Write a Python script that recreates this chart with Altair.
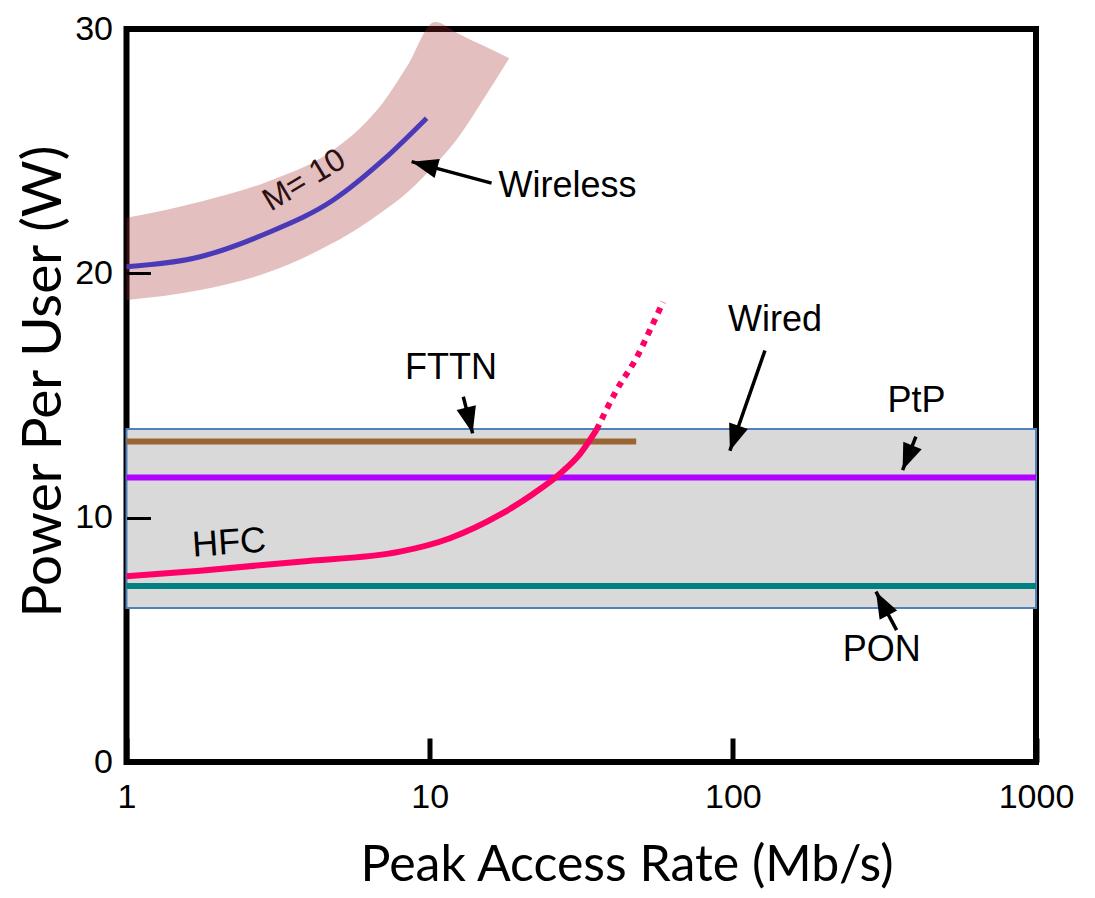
import altair as alt
import pandas as pd

# ---------------- data ----------------
# Wired technologies (horizontal lines), W per user
fttn_x = [1, 48]
fttn_y = [13.12, 13.12]
ptp_x = [1, 1000]
ptp_y = [11.64, 11.64]
pon_x = [1, 1000]
pon_y = [7.2, 7.2]

# Wired envelope band
wired_lo = 6.30
wired_hi = 13.63

# HFC curve (solid part) and its dotted extrapolation
hfc_x = [1, 1.75, 3.73, 7.98, 11.67, 17.06, 21.98, 26.9, 31.3, 35.5]
hfc_y = [7.6, 7.83, 8.2, 8.61, 9.16, 10.12, 10.98, 11.8, 12.6, 13.59]
hfc_ext_x = [35.5, 41.4, 48.3, 53.3, 58.9]
hfc_ext_y = [13.59, 15.23, 16.58, 17.68, 18.83]

# Wireless (M = 10) curve and its uncertainty ribbon
wireless_x = [1, 1.75, 2.9, 4.81, 7.03, 9.77]
wireless_y = [20.27, 20.68, 21.64, 23.0, 24.64, 26.35]
band_x = [1, 1.75, 2.9, 4.81, 5.9, 7.03, 8.4, 10.41, 12.5, 15, 18.3]
band_hi = [22.27, 22.93, 23.74, 25.05, 25.95, 27.0, 28.45, 30.29, 29.8, 29.32, 28.8]
band_lo = [18.91, 19.32, 20.02, 21.25, 21.9, 22.55, 23.29, 24.44, 25.6, 27.1, 28.8]

# Annotation labels
label_text = ["Wireless", "Wired", "FTTN", "PtP", "PON"]
label_x = [28.48, 137.7, 11.76, 403.6, 309.6]
label_y = [23.59, 18.09, 16.13, 14.79, 4.58]

# Arrows (tail -> tip)
arrow_x = [16.0, 12.91, 127.6, 401.6, 346.9]
arrow_y = [23.69, 14.95, 16.84, 13.32, 5.40]
arrow_x2 = [8.72, 13.86, 97.8, 363, 296.6]
arrow_y2 = [24.57, 13.45, 12.74, 11.95, 6.97]
arrow_angle = [285, 166, 199, 202, 332]

# Axis ticks
x_ticks = [1, 10, 100, 1000]
y_ticks = [0, 10, 20, 30]

# ---------------- chart ----------------
LABEL_FONT = "Liberation Sans"
TITLE_FONT = "Lato"

xs = alt.Scale(type="log", domain=[1, 1000])
ys = alt.Scale(domain=[0, 30], nice=False, zero=False)

x_axis = alt.Axis(
    values=x_ticks, format="d", tickSize=24, offset=-24, tickWidth=5,
    tickColor="black", domain=False, grid=False, labelFont=LABEL_FONT,
    labelFontSize=34, labelColor="black", labelPadding=18, labelFlush=False,
    labelOverlap=False, title="Peak Access Rate (Mb/s)", titleFont=TITLE_FONT,
    titleFontSize=50, titleFontWeight="normal", titleColor="black",
    titleBaseline="alphabetic", titleX=500, titleY=142, zindex=1,
)
y_axis = alt.Axis(
    values=y_ticks, tickSize=24, offset=-24, tickWidth=3, tickColor="black",
    domain=False, grid=False, labelFont=LABEL_FONT, labelFontSize=34,
    labelColor="black", labelPadding=14, labelFlush=False, labelOverlap=False,
    title="Power Per User (W)", titleFont=TITLE_FONT, titleFontSize=55,
    titleFontWeight="normal", titleColor="black", titlePadding=2,
    titleY=352, zindex=1,
)

X = alt.X("x:Q", scale=xs, axis=x_axis)
Y = alt.Y("y:Q", scale=ys, axis=y_axis)


def line_df(xv, yv):
    return pd.DataFrame({"x": xv, "y": yv})


wired_df = pd.DataFrame({"x": [1], "x2": [1000], "y": [wired_lo], "y2": [wired_hi]})
wired_band = alt.Chart(wired_df).mark_rect(
    fill="#d9d9d9", stroke="#4f81bd", strokeWidth=2
).encode(x=X, x2="x2:Q", y=Y, y2="y2:Q")

band_df = pd.DataFrame({"x": band_x, "y": band_lo, "y2": band_hi})
wireless_band = alt.Chart(band_df).mark_area(
    color="#a52a2a", opacity=0.3, interpolate="monotone"
).encode(x=X, y=Y, y2="y2:Q")


def curve(xv, yv, color, width=6, dash=None, interp="linear"):
    kw = dict(color=color, strokeWidth=width, interpolate=interp)
    if dash is not None:
        kw["strokeDash"] = dash
    return alt.Chart(line_df(xv, yv)).mark_line(**kw).encode(x=X, y=Y)


fttn = curve(fttn_x, fttn_y, "#996633")
ptp = curve(ptp_x, ptp_y, "#b000ff")
pon = curve(pon_x, pon_y, "#008080")
hfc = curve(hfc_x, hfc_y, "#ff0066", width=6, interp="monotone")
hfc_ext = curve(hfc_ext_x, hfc_ext_y, "#ff0066", width=6, dash=[6, 6], interp="monotone")
wireless = curve(wireless_x, wireless_y, "#4a3ab8", width=5, interp="monotone")

arrows_df = pd.DataFrame({"x": arrow_x, "y": arrow_y, "x2": arrow_x2,
                          "y2": arrow_y2, "angle": arrow_angle})
arrow_shafts = alt.Chart(arrows_df).mark_rule(
    color="black", strokeWidth=3.5
).encode(x=X, y=Y, x2="x2:Q", y2="y2:Q")
arrow_heads = alt.Chart(arrows_df).mark_point(
    shape="M0,0L-0.75,2L0.75,2Z", filled=True, color="black", opacity=1,
    size=700
).encode(
    x=alt.X("x2:Q", scale=xs, axis=x_axis),
    y=alt.Y("y2:Q", scale=ys, axis=y_axis),
    angle=alt.Angle("angle:Q", scale=None),
)

labels_df = pd.DataFrame({"x": label_x, "y": label_y, "label": label_text})
labels = alt.Chart(labels_df).mark_text(
    font=LABEL_FONT, fontSize=36, color="black", align="center", baseline="middle"
).encode(x=X, y=Y, text="label:N")

hfc_label = alt.Chart(pd.DataFrame({"x": [2.18], "y": [8.96], "label": ["HFC"]})).mark_text(
    font=LABEL_FONT, fontSize=36, color="black", align="center",
    baseline="middle", angle=356
).encode(x=X, y=Y, text="label:N")

m_label = alt.Chart(pd.DataFrame({"x": [3.85], "y": [23.82], "label": ["M= 10"]})).mark_text(
    font=LABEL_FONT, fontSize=32, color="#2a1010", align="center",
    baseline="middle", angle=329
).encode(x=X, y=Y, text="label:N")

chart = alt.layer(
    wired_band, wireless_band, fttn, ptp, pon, hfc, hfc_ext, wireless,
    arrow_shafts, arrow_heads, labels, hfc_label, m_label,
).properties(
    width=909.5, height=733,
    autosize=alt.AutoSizeParams(type="none"),
    padding={"left": 118.5, "top": 21, "right": 40, "bottom": 128},
).configure_view(stroke="black", strokeWidth=6)

chart.save("out.html", embed_options={"renderer": "svg", "actions": False})
